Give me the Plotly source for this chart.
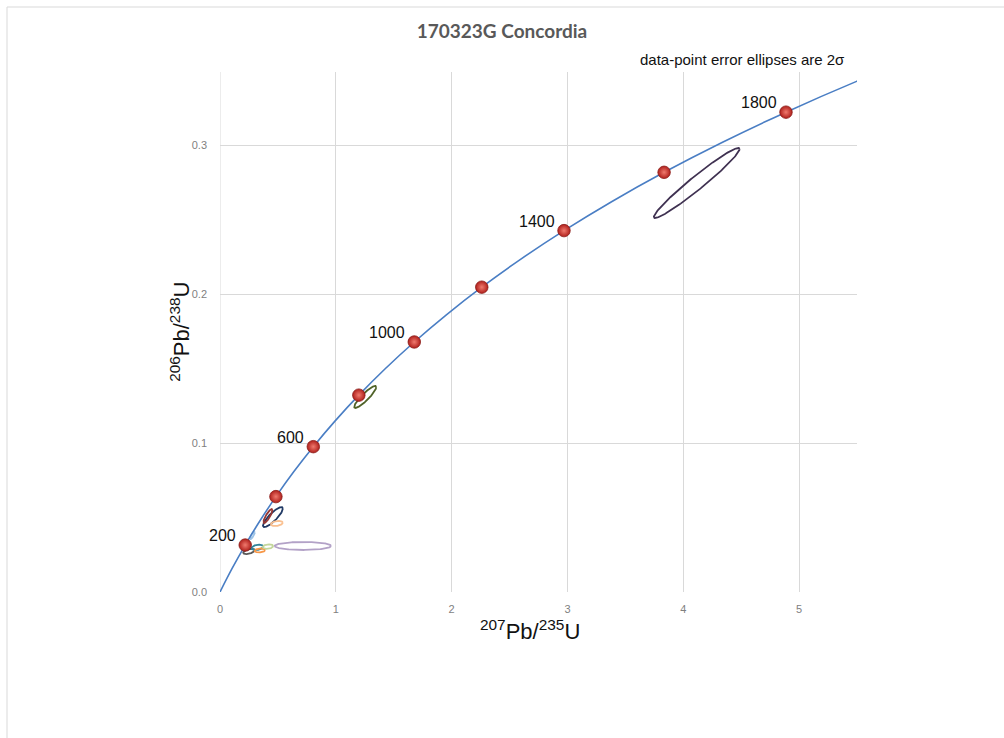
import numpy as np
import plotly.graph_objects as go

# Concordia curve, sampled every 100 Ma (ratio values)
curve_age_ma = [0, 100, 200, 300, 400, 500, 600, 700, 800, 900, 1000,
                1100, 1200, 1300, 1400, 1500, 1600, 1700, 1800, 1900, 2000]
curve_pb207_u235 = [0.0, 0.1035, 0.2177, 0.3437, 0.4828, 0.6363, 0.8056, 0.9925,
                    1.1987, 1.4263, 1.6774, 1.9545, 2.2603, 2.5977, 2.9701,
                    3.3810, 3.8344, 4.3347, 4.8869, 5.4962, 6.1697]
curve_pb206_u238 = [0.0, 0.01563, 0.03151, 0.04764, 0.06402, 0.08065, 0.09754,
                    0.11470, 0.13213, 0.14983, 0.16780, 0.18605, 0.20459,
                    0.22342, 0.24254, 0.26196, 0.28168, 0.30171, 0.32205,
                    0.34271, 0.36374]

# Age markers on the curve and the ones that carry a label
marker_ages = [200, 400, 600, 800, 1000, 1200, 1400, 1600, 1800]
labelled_ages = [200, 600, 1000, 1400, 1800]

# Data-point error ellipses (2 sigma): centre, half-extents, correlation
ell_x = [4.116, 1.254, 0.457, 0.414, 0.491, 0.280, 0.250, 0.323, 0.345, 0.414, 0.716]
ell_y = [0.2745, 0.1309, 0.0503, 0.0510, 0.0460, 0.0380, 0.0272, 0.0300, 0.0279, 0.0305, 0.0309]
ell_sx = [0.370, 0.095, 0.086, 0.039, 0.052, 0.020, 0.050, 0.050, 0.045, 0.045, 0.243]
ell_sy = [0.0235, 0.0074, 0.0067, 0.0047, 0.0017, 0.0025, 0.0018, 0.0018, 0.0013, 0.0015, 0.0027]
ell_rho = [0.97, 0.90, 0.85, 0.85, 0.30, 0.80, 0.50, 0.30, 0.20, 0.20, 0.0]
ell_color = ["#3F3151", "#4F6228", "#1F3864", "#943634", "#FAC090", "#9DC3E6",
             "#595959", "#31849B", "#F79646", "#C3D69B", "#B3A2C7"]

fig = go.Figure()

# Error ellipses
t = np.linspace(0, 2 * np.pi, 181)
for cx, cy, sx, sy, r, col in zip(ell_x, ell_y, ell_sx, ell_sy, ell_rho, ell_color):
    ex = cx + sx * np.cos(t)
    ey = cy + sy * (r * np.cos(t) + np.sqrt(1 - r * r) * np.sin(t))
    fig.add_trace(go.Scatter(x=ex, y=ey, mode="lines",
                             line=dict(color=col, width=1.8),
                             hoverinfo="skip", showlegend=False))

# Concordia curve
fig.add_trace(go.Scatter(x=curve_pb207_u235, y=curve_pb206_u238, mode="lines",
                         line=dict(color="#4A7EC4", width=1.6, shape="spline"),
                         showlegend=False))

# Age markers
idx = [curve_age_ma.index(a) for a in marker_ages]
mx = [curve_pb207_u235[i] for i in idx]
my = [curve_pb206_u238[i] for i in idx]
fig.add_trace(go.Scatter(x=mx, y=my, mode="markers",
                         marker=dict(size=12.5, color="#B0201C",
                                     gradient=dict(type="radial", color="#F07A6E"),
                                     line=dict(color="#8A1C18", width=0.8)),
                         showlegend=False))

annotations = []
for a in labelled_ages:
    i = curve_age_ma.index(a)
    annotations.append(dict(x=curve_pb207_u235[i], y=curve_pb206_u238[i],
                            xref="x", yref="y", text=str(a), showarrow=False,
                            xanchor="right", yanchor="bottom", xshift=-7, yshift=-1,
                            font=dict(family="Liberation Sans", size=16, color="#111111")))

annotations += [
    dict(x=1.0, y=1.0, xref="paper", yref="paper", xanchor="right", yanchor="bottom",
         xshift=-10, yshift=2, showarrow=False,
         text="data-point error ellipses are 2σ",
         font=dict(family="Liberation Sans", size=15, color="#111111")),
    dict(x=-0.063, y=0.5, xref="paper", yref="paper", xanchor="center",
         yanchor="middle", showarrow=False, textangle=-90,
         text="<sup>206</sup>Pb/<sup>238</sup>U",
         font=dict(family="Liberation Sans", size=22, color="#111111")),
    dict(x=0.487, y=-0.073, xref="paper", yref="paper", xanchor="center",
         yanchor="middle", showarrow=False,
         text="<sup>207</sup>Pb/<sup>235</sup>U",
         font=dict(family="Liberation Sans", size=22, color="#111111")),
]

W, H = 1004, 738
ml, mr, mt, mb = 220, 147, 72, 146
pw, ph = W - ml - mr, H - mt - mb

def px_to_paper(px, py):
    return (px - ml) / pw, (H - mb - py) / ph

x0, y0 = px_to_paper(7, 7)
x1, y1 = px_to_paper(1012, 746)

fig.update_layout(
    width=W, height=H,
    margin=dict(l=ml, r=mr, t=mt, b=mb),
    paper_bgcolor="white", plot_bgcolor="white",
    title=dict(text="<b>170323G Concordia</b>", x=0.5, xanchor="center",
               y=1 - 31 / H, yanchor="middle",
               font=dict(family="Lato", size=19, color="#595959")),
    annotations=annotations,
    shapes=[dict(type="rect", xref="paper", yref="paper", x0=x0, y0=y1, x1=x1, y1=y0,
                 line=dict(color="#D9D9D9", width=1), layer="below")],
    xaxis=dict(range=[0, 5.5], dtick=1, tick0=0, showgrid=True, gridcolor="#D9D9D9",
               gridwidth=1, zeroline=False, showline=False, ticks="",
               ticklabelstandoff=9,
               tickfont=dict(family="Liberation Sans", size=11, color="#7F7F7F")),
    yaxis=dict(range=[0, 0.349], dtick=0.1, tick0=0, tickformat=".1f", showgrid=True,
               gridcolor="#D9D9D9", gridwidth=1, zeroline=False, showline=False,
               ticks="", ticklabelstandoff=12,
               tickfont=dict(family="Liberation Sans", size=11, color="#7F7F7F")),
)
# Left edge line at x = 0
fig.add_shape(type="line", xref="x", yref="paper", x0=0, x1=0, y0=0, y1=1,
              line=dict(color="#D9D9D9", width=1), layer="below")

fig.write_html("out.html")
